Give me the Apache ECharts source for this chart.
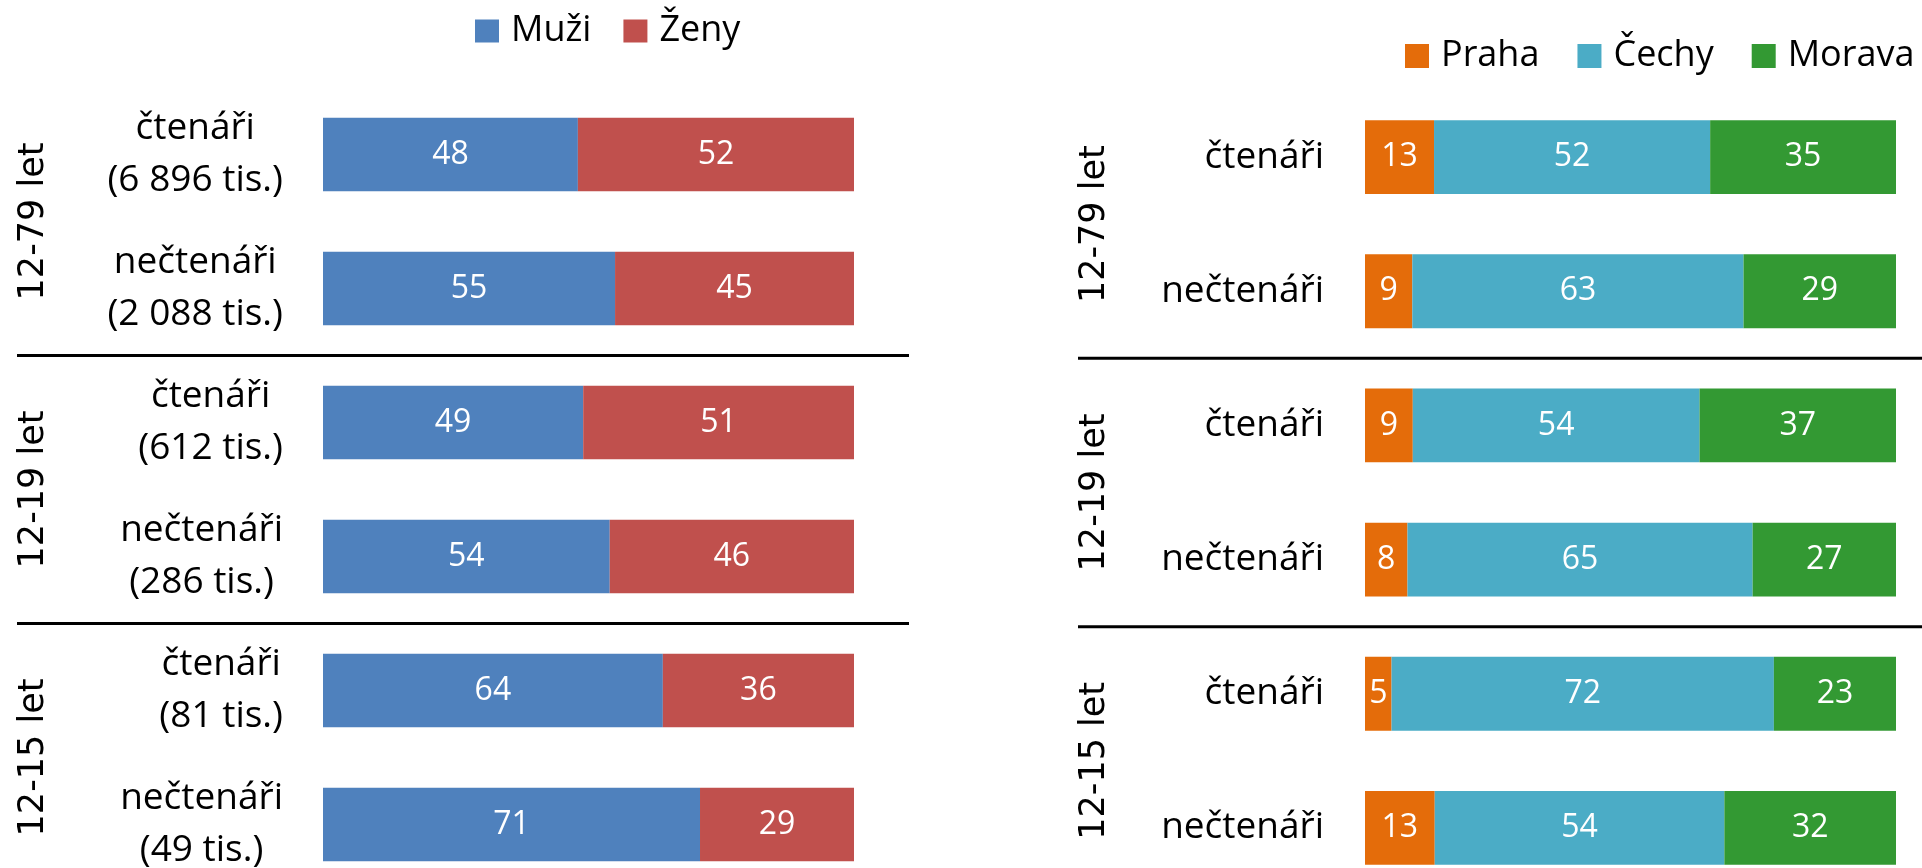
<!DOCTYPE html>
<html>
<head>
<meta charset="utf-8">
<script src="https://cdn.jsdelivr.net/npm/echarts@6/dist/echarts.min.js"></script>
<style>
  html, body { margin: 0; padding: 0; background: #fff; }
  #main { width: 1922px; height: 868px; }
</style>
</head>
<body>
<div id="main"></div>
<script>
// data
const ageGroups = ['12-79 let', '12-19 let', '12-15 let'];
const readers = ['čtenáři', 'nečtenáři', 'čtenáři', 'nečtenáři', 'čtenáři', 'nečtenáři'];
const sizes = ['6 896 tis.', '2 088 tis.', '612 tis.', '286 tis.', '81 tis.', '49 tis.'];

const muzi = [48, 55, 49, 54, 64, 71];
const zeny = [52, 45, 51, 46, 36, 29];

const praha = [13, 9, 9, 8, 5, 13];
const cechy = [52, 63, 54, 65, 72, 54];
const morava = [35, 29, 37, 27, 23, 32];

const leftCats = readers.map((r, i) => r + '\n(' + sizes[i] + ')');

// 100 % stacked: bar length is the share of the row total, label shows the value
const share = (arr, parts) => arr.map((v, i) => {
    const sum = parts.reduce((s, p) => s + p[i], 0);
    return v / sum * 100;
});
const genderParts = [muzi, zeny];
const regionParts = [praha, cechy, morava];

const FONT = '"Open Sans", "Noto Sans", sans-serif';

const barLabel = (raw) => ({
    show: true,
    position: 'inside',
    color: '#fff',
    fontFamily: FONT,
    fontSize: 32,
    formatter: p => raw[p.dataIndex]
});

const hiddenAxis = {
    axisLine: {show: false},
    axisTick: {show: false},
    splitLine: {show: false}
};

const chart = echarts.init(document.getElementById('main'));
chart.setOption({
    animation: false,
    backgroundColor: '#fff',
    legend: [
        {
            data: ['Muži', 'Ženy'],
            left: 475,
            top: 13,
            padding: 0,
            icon: 'rect',
            itemWidth: 24,
            itemHeight: 23,
            itemGap: 32,
            selectedMode: false,
            textStyle: {fontFamily: FONT, fontSize: 36, color: '#000', padding: [0, 0, 0, 7]}
        },
        {
            data: ['Praha', 'Čechy', 'Morava'],
            left: 1405,
            top: 38,
            padding: 0,
            icon: 'rect',
            itemWidth: 24,
            itemHeight: 24,
            itemGap: 38,
            selectedMode: false,
            textStyle: {fontFamily: FONT, fontSize: 36, color: '#000', padding: [0, 0, 0, 7]}
        }
    ],
    grid: [
        {left: 323, top: 87.5, width: 531, height: 804, outerBoundsMode: 'none'},
        {left: 1365, top: 90, width: 531, height: 805, outerBoundsMode: 'none'}
    ],
    xAxis: [
        {gridIndex: 0, type: 'value', min: 0, max: 100, show: false},
        {gridIndex: 1, type: 'value', min: 0, max: 100, show: false}
    ],
    yAxis: [
        {
            gridIndex: 0,
            type: 'category',
            data: leftCats,
            inverse: true,
            ...hiddenAxis,
            axisLabel: {
                margin: 40,
                align: 'right',
                formatter: v => v.split('\n').map(s => '{c|' + s + '}').join('\n'),
                rich: {
                    c: {align: 'center', fontFamily: FONT, fontSize: 37, lineHeight: 52, color: '#000'}
                }
            }
        },
        {
            gridIndex: 0,
            type: 'category',
            data: ageGroups,
            inverse: true,
            position: 'left',
            offset: 264,
            ...hiddenAxis,
            axisLabel: {rotate: 90, margin: 8, fontFamily: 'DejaVu Sans', fontSize: 35, color: '#000'}
        },
        {
            gridIndex: 1,
            type: 'category',
            data: readers,
            inverse: true,
            ...hiddenAxis,
            axisLabel: {margin: 41, fontFamily: FONT, fontSize: 37, color: '#000'}
        },
        {
            gridIndex: 1,
            type: 'category',
            data: ageGroups,
            inverse: true,
            position: 'left',
            offset: 245,
            ...hiddenAxis,
            axisLabel: {rotate: 90, margin: 8, fontFamily: 'DejaVu Sans', fontSize: 35, color: '#000'}
        }
    ],
    series: [
        {
            name: 'Muži', type: 'bar', stack: 'g', xAxisIndex: 0, yAxisIndex: 0,
            barWidth: '55%', data: share(muzi, genderParts),
            itemStyle: {color: '#4F81BD'}, label: barLabel(muzi)
        },
        {
            name: 'Ženy', type: 'bar', stack: 'g', xAxisIndex: 0, yAxisIndex: 0,
            barWidth: '55%', data: share(zeny, genderParts),
            itemStyle: {color: '#C0504D'}, label: barLabel(zeny)
        },
        {
            name: 'Praha', type: 'bar', stack: 'r', xAxisIndex: 1, yAxisIndex: 2,
            barWidth: '55%', data: share(praha, regionParts),
            itemStyle: {color: '#E46C0A'}, label: barLabel(praha)
        },
        {
            name: 'Čechy', type: 'bar', stack: 'r', xAxisIndex: 1, yAxisIndex: 2,
            barWidth: '55%', data: share(cechy, regionParts),
            itemStyle: {color: '#4BACC6'}, label: barLabel(cechy)
        },
        {
            name: 'Morava', type: 'bar', stack: 'r', xAxisIndex: 1, yAxisIndex: 2,
            barWidth: '55%', data: share(morava, regionParts),
            itemStyle: {color: '#339933'}, label: barLabel(morava)
        }
    ]
});

// black separators between the age groups, placed from the category axes
const between = (axisIndex, a, b) =>
    (chart.convertToPixel({yAxisIndex: axisIndex}, a) + chart.convertToPixel({yAxisIndex: axisIndex}, b)) / 2;
const sepLine = (x1, x2, y) => ({
    type: 'line',
    shape: {x1: x1, y1: y, x2: x2, y2: y},
    style: {stroke: '#000', lineWidth: 3}
});
chart.setOption({
    graphic: [
        sepLine(17, 909, between(0, 1, 2)),
        sepLine(17, 909, between(0, 3, 4)),
        sepLine(1078, 1922, between(2, 1, 2)),
        sepLine(1078, 1922, between(2, 3, 4))
    ]
});
</script>
</body>
</html>
